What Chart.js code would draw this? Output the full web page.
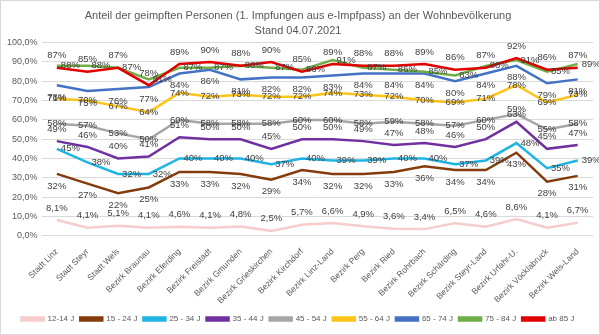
<!DOCTYPE html>
<html>
<head>
<meta charset="utf-8">
<script src="https://cdn.jsdelivr.net/npm/chart.js@4.4.1/dist/chart.umd.min.js"></script>
<style>
  html, body { margin: 0; padding: 0; background: #fff; }
  .chart-box { width: 600px; height: 335px; box-sizing: border-box; border: 1px solid #d9d9d9; }
</style>
</head>
<body>
<div class="chart-box"><canvas id="impfChart" width="598" height="333"></canvas></div>
<script>
const bezirke = ['Stadt Linz', 'Stadt Steyr', 'Stadt Wels', 'Bezirk Braunau', 'Bezirk Eferding',
  'Bezirk Freistadt', 'Bezirk Gmunden', 'Bezirk Grieskirchen', 'Bezirk Kirchdorf', 'Bezirk Linz-Land',
  'Bezirk Perg', 'Bezirk Ried', 'Bezirk Rohrbach', 'Bezirk Schärding', 'Bezirk Steyr-Land',
  'Bezirk Urfahr-U.', 'Bezirk Vöcklabruck', 'Bezirk Wels-Land'];

// Anteil in Prozent je Altersgruppe
const alter12_14 = [8.1, 4.1, 5.1, 4.1, 4.6, 4.1, 4.8, 2.5, 5.7, 6.6, 4.9, 3.6, 3.4, 6.5, 4.6, 8.6, 4.1, 6.7];
const alter15_24 = [32, 27, 22, 25, 33, 33, 32, 29, 34, 32, 32, 33, 36, 34, 34, 43, 28, 31];
const alter25_34 = [45, 38, 32, 32, 40, 40, 40, 37, 40, 39, 39, 40, 40, 37, 39, 48, 35, 39];
const alter35_44 = [49, 46, 40, 41, 51, 50, 50, 45, 50, 50, 49, 47, 48, 46, 50, 59, 45, 47];
const alter45_54 = [58, 57, 53, 50, 60, 58, 58, 58, 60, 60, 58, 59, 58, 57, 60, 63, 55, 58];
const alter55_64 = [71, 70, 67, 64, 74, 72, 73, 72, 72, 74, 73, 72, 70, 69, 71, 78, 69, 73];
const alter65_74 = [78, 75, 76, 77, 84, 86, 81, 82, 82, 83, 84, 84, 84, 80, 84, 88, 79, 81];
const alter75_84 = [88, 88, 87, 81, 87, 87, 88, 87, 86, 91, 87, 86, 85, 83, 88, 91, 85, 89];
const ab85 = [87, 85, 87, 78, 89, 90, 88, 90, 85, 89, 88, 88, 89, 86, 87, 92, 86, 87];

const yTicks = [0, 10, 20, 30, 40, 50, 60, 70, 80, 90, 100];

const pct = v => v.toFixed(1).replace('.', ',') + '%';

function serie(label, data, color, labelPos, decimals) {
  return {
    label, data,
    borderColor: color,
    backgroundColor: color,
    borderWidth: 2.5,
    pointRadius: 0,
    tension: 0,
    labelPos,
    decimals
  };
}

const datasets = [
  serie('12-14 J', alter12_14, '#f6cccc', 'above', 1),
  serie('15 - 24 J', alter15_24, '#843c0c', 'below', 0),
  serie('25 - 34 J', alter25_34, '#1fb4e4', 'right', 0),
  serie('35 - 44 J', alter35_44, '#7030a0', 'above', 0),
  serie('45 - 54 J', alter45_54, '#a6a6a6', 'center', 0),
  serie('55 - 64 J', alter55_64, '#fcc419', 'center', 0),
  serie('65 - 74 J', alter65_74, '#4472c4', 'below', 0),
  serie('75 - 84 J', alter75_84, '#70ad47', 'right', 0),
  serie('ab 85 J', ab85, '#e00000', 'above', 0)
];
// spätere Reihen liegen oben
datasets.forEach((ds, i) => { ds.order = datasets.length - i; });

// Wertbeschriftungen an den Linien
const wertLabels = {
  id: 'wertLabels',
  afterDatasetsDraw(chart) {
    const ctx = chart.ctx;
    ctx.save();
    ctx.font = '9.5px "Liberation Sans", Arial, sans-serif';
    ctx.fillStyle = '#404040';
    ctx.textBaseline = 'middle';
    chart.data.datasets.forEach((ds, di) => {
      const meta = chart.getDatasetMeta(di);
      meta.data.forEach((pt, i) => {
        const v = ds.data[i];
        const txt = ds.decimals ? v.toFixed(1).replace('.', ',') + '%' : Math.round(v) + '%';
        let x = pt.x, y = pt.y;
        ctx.textAlign = 'center';
        if (ds.labelPos === 'above') y -= 12;
        else if (ds.labelPos === 'below') y += 12;
        else if (ds.labelPos === 'right') { ctx.textAlign = 'left'; x += 4; }
        ctx.fillText(txt, x, y);
      });
    });
    ctx.restore();
  }
};

Chart.defaults.font.family = '"Liberation Sans", Arial, sans-serif';
Chart.defaults.color = '#595959';

new Chart(document.getElementById('impfChart'), {
  type: 'line',
  data: { labels: bezirke, datasets },
  options: {
    responsive: false,
    animation: false,
    layout: { padding: { left: 2, right: 6, top: 0, bottom: 1 } },
    scales: {
      x: {
        offset: true,
        grid: { display: false },
        border: { display: false },
        ticks: { font: { size: 8.5 }, maxRotation: 45, minRotation: 45, autoSkip: false, padding: 3 }
      },
      y: {
        min: 0,
        max: 100,
        afterBuildTicks: axis => { axis.ticks = yTicks.map(value => ({ value })); },
        grid: { color: '#d9d9d9', drawTicks: false },
        border: { display: false },
        ticks: { font: { size: 9 }, padding: 4, callback: v => pct(v) }
      }
    },
    plugins: {
      title: {
        display: true,
        text: ['Anteil der geimpften Personen (1. Impfungen aus e-Impfpass) an der Wohnbevölkerung', 'Stand 04.07.2021'],
        font: { size: 11, weight: 'normal', lineHeight: 1.35 },
        color: '#595959',
        padding: { top: 8, bottom: 4 }
      },
      legend: {
        position: 'bottom',
        labels: {
          boxWidth: 22,
          boxHeight: 3,
          font: { size: 8 },
          padding: 6,
          sort: (a, b) => a.datasetIndex - b.datasetIndex
        }
      },
      tooltip: { enabled: false }
    }
  },
  plugins: [wertLabels]
});
</script>
</body>
</html>
